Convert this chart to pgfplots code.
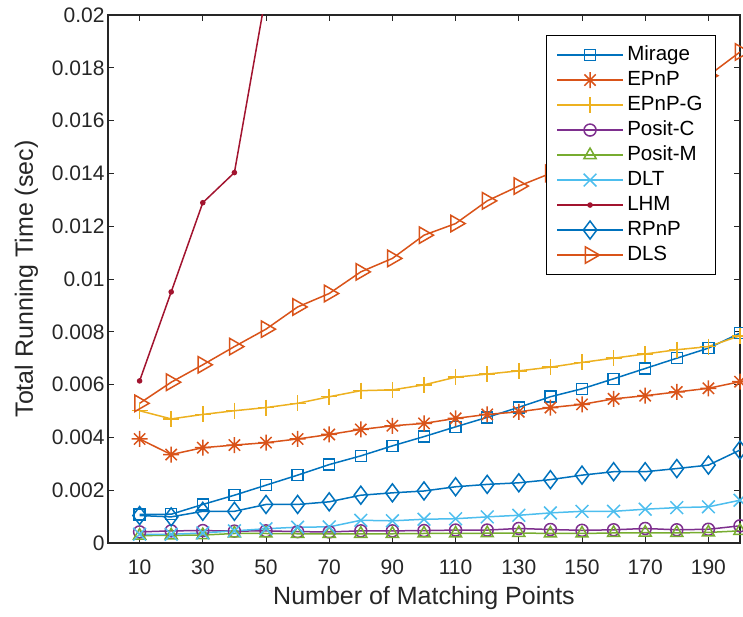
\documentclass[border=0pt]{standalone}
\usepackage{pgfplots}
\pgfplotsset{compat=1.18}
\usepackage{fontspec}
\setmainfont{Liberation Sans}

\definecolor{mblue}{rgb}{0,0.447,0.741}
\definecolor{morange}{rgb}{0.85,0.325,0.098}
\definecolor{myellow}{rgb}{0.929,0.694,0.125}
\definecolor{mpurple}{rgb}{0.494,0.184,0.556}
\definecolor{mgreen}{rgb}{0.466,0.674,0.188}
\definecolor{mcyan}{rgb}{0.301,0.745,0.933}
\definecolor{mred}{rgb}{0.635,0.078,0.184}
\definecolor{axgray}{rgb}{0.15,0.15,0.15}

\pgfdeclareplotmark{ast8}{%
  \pgfpathmoveto{\pgfqpoint{-\pgfplotmarksize}{0pt}}%
  \pgfpathlineto{\pgfqpoint{\pgfplotmarksize}{0pt}}%
  \pgfpathmoveto{\pgfqpoint{0pt}{-\pgfplotmarksize}}%
  \pgfpathlineto{\pgfqpoint{0pt}{\pgfplotmarksize}}%
  \pgfpathmoveto{\pgfqpoint{-.7071\pgfplotmarksize}{-.7071\pgfplotmarksize}}%
  \pgfpathlineto{\pgfqpoint{.7071\pgfplotmarksize}{.7071\pgfplotmarksize}}%
  \pgfpathmoveto{\pgfqpoint{-.7071\pgfplotmarksize}{.7071\pgfplotmarksize}}%
  \pgfpathlineto{\pgfqpoint{.7071\pgfplotmarksize}{-.7071\pgfplotmarksize}}%
  \pgfusepathqstroke}

\pgfplotstableread{
x Mirage EPnP EPnPG PositC PositM DLT RPnP DLS
10 0.00108 0.00394 0.00501 0.00042 0.00028 0.00033 0.00104 0.00529
20 0.00109 0.00335 0.00470 0.00046 0.00029 0.00033 0.00099 0.00609
30 0.00146 0.00361 0.00487 0.00047 0.00030 0.00038 0.00120 0.00675
40 0.00181 0.00371 0.00501 0.00045 0.00036 0.00046 0.00120 0.00744
50 0.00219 0.00380 0.00513 0.00046 0.00036 0.00054 0.00146 0.00810
60 0.00257 0.00394 0.00529 0.00043 0.00035 0.00060 0.00146 0.00894
70 0.00297 0.00411 0.00554 0.00042 0.00035 0.00061 0.00156 0.00945
80 0.00330 0.00430 0.00577 0.00046 0.00035 0.00086 0.00181 0.01027
90 0.00368 0.00444 0.00580 0.00046 0.00035 0.00084 0.00190 0.01078
100 0.00403 0.00453 0.00599 0.00047 0.00036 0.00090 0.00197 0.01166
110 0.00440 0.00472 0.00628 0.00049 0.00036 0.00092 0.00213 0.01210
120 0.00476 0.00487 0.00640 0.00049 0.00037 0.00099 0.00222 0.01296
130 0.00514 0.00497 0.00652 0.00055 0.00038 0.00105 0.00228 0.01352
140 0.00554 0.00513 0.00666 0.00051 0.00036 0.00114 0.00240 0.01400
150 0.00584 0.00525 0.00684 0.00048 0.00036 0.00120 0.00257 0.01470
160 0.00622 0.00546 0.00700 0.00050 0.00038 0.00120 0.00270 0.01540
170 0.00661 0.00558 0.00716 0.00055 0.00039 0.00128 0.00270 0.01610
180 0.00700 0.00572 0.00732 0.00050 0.00038 0.00134 0.00282 0.01690
190 0.00738 0.00586 0.00744 0.00052 0.00040 0.00137 0.00295 0.01770
200 0.00795 0.00611 0.00785 0.00065 0.00046 0.00162 0.00352 0.01860
}\datatable

\pgfplotstableread{
x LHM
10 0.00614
20 0.00951
30 0.01289
40 0.01403
50 0.02080
}\lhmtable

\begin{document}
\begin{tikzpicture}
\begin{axis}[
  name=ax,
  scale only axis,
  width=632pt, height=528pt,
  xmin=0, xmax=200, ymin=0, ymax=0.02,
  xtick={10,30,50,70,90,110,130,150,170,190},
  ytick={0,0.002,0.004,0.006,0.008,0.01,0.012,0.014,0.016,0.018,0.02},
  yticklabels={0,0.002,0.004,0.006,0.008,0.01,0.012,0.014,0.016,0.018,0.02},
  scaled y ticks=false,
  /pgf/number format/assume math mode=true,
  tick align=inside,
  major tick length=6pt,
  tick style={axgray, line width=0.9pt},
  axis line style={axgray, line width=1.1pt},
  ticklabel style={font=\fontsize{21}{24}\selectfont, text=axgray},
  xticklabel style={anchor=base, yshift=-32pt},
  xlabel={Number of Matching Points},
  ylabel={Total Running Time (sec)},
  label style={font=\fontsize{25}{28}\selectfont, text=axgray},
  xlabel style={at={(axis description cs:0.5,-0.1174)}, anchor=base},
  ylabel style={at={(axis description cs:-0.1187,0.5)}, rotate=0, anchor=base},
  legend cell align=left,
  legend style={at={(axis description cs:0.962,0.962)}, anchor=north east,
    draw=black, line width=1pt, fill=white,
    font=\fontsize{20.5}{23}\selectfont,
    inner xsep=9.5pt, inner ysep=10pt, row sep=6pt,
    nodes={inner xsep=3.5pt, inner ysep=0pt, text height=14.5pt, text depth=4.5pt}},
  legend image code/.code={\draw[mark repeat=2,mark phase=2,#1] plot coordinates {(0pt,0pt) (33pt,0pt) (66pt,0pt)};},
  every axis plot/.append style={line width=1.5pt},
]
\addplot[mblue, mark=square, mark size=5.5pt] table[x=x,y=Mirage] {\datatable};
\addlegendentry{Mirage}
\addplot[morange, mark=ast8, mark size=8pt] table[x=x,y=EPnP] {\datatable};
\addlegendentry{EPnP}
\addplot[myellow, mark=+, mark size=8pt] table[x=x,y=EPnPG] {\datatable};
\addlegendentry{EPnP-G}
\addplot[mpurple, mark=o, mark size=6pt] table[x=x,y=PositC] {\datatable};
\addlegendentry{Posit-C}
\addplot[mgreen, mark=triangle, mark size=7pt] table[x=x,y=PositM] {\datatable};
\addlegendentry{Posit-M}
\addplot[mcyan, mark=x, mark size=9pt] table[x=x,y=DLT] {\datatable};
\addlegendentry{DLT}
\addplot[mred, mark=*, mark size=2pt] table[x=x,y=LHM] {\lhmtable};
\addlegendentry{LHM}
\addplot[mblue, mark=diamond, mark size=9pt] table[x=x,y=RPnP] {\datatable};
\addlegendentry{RPnP}
\addplot[morange, mark=triangle, mark size=9.5pt, mark options={rotate=-90}] table[x=x,y=DLS] {\datatable};
\addlegendentry{DLS}
\end{axis}
\pgfresetboundingbox
\path[use as bounding box] ([xshift=-108pt,yshift=-74pt]ax.south west) rectangle ([xshift=3pt,yshift=15pt]ax.north east);
\end{tikzpicture}
\end{document}
